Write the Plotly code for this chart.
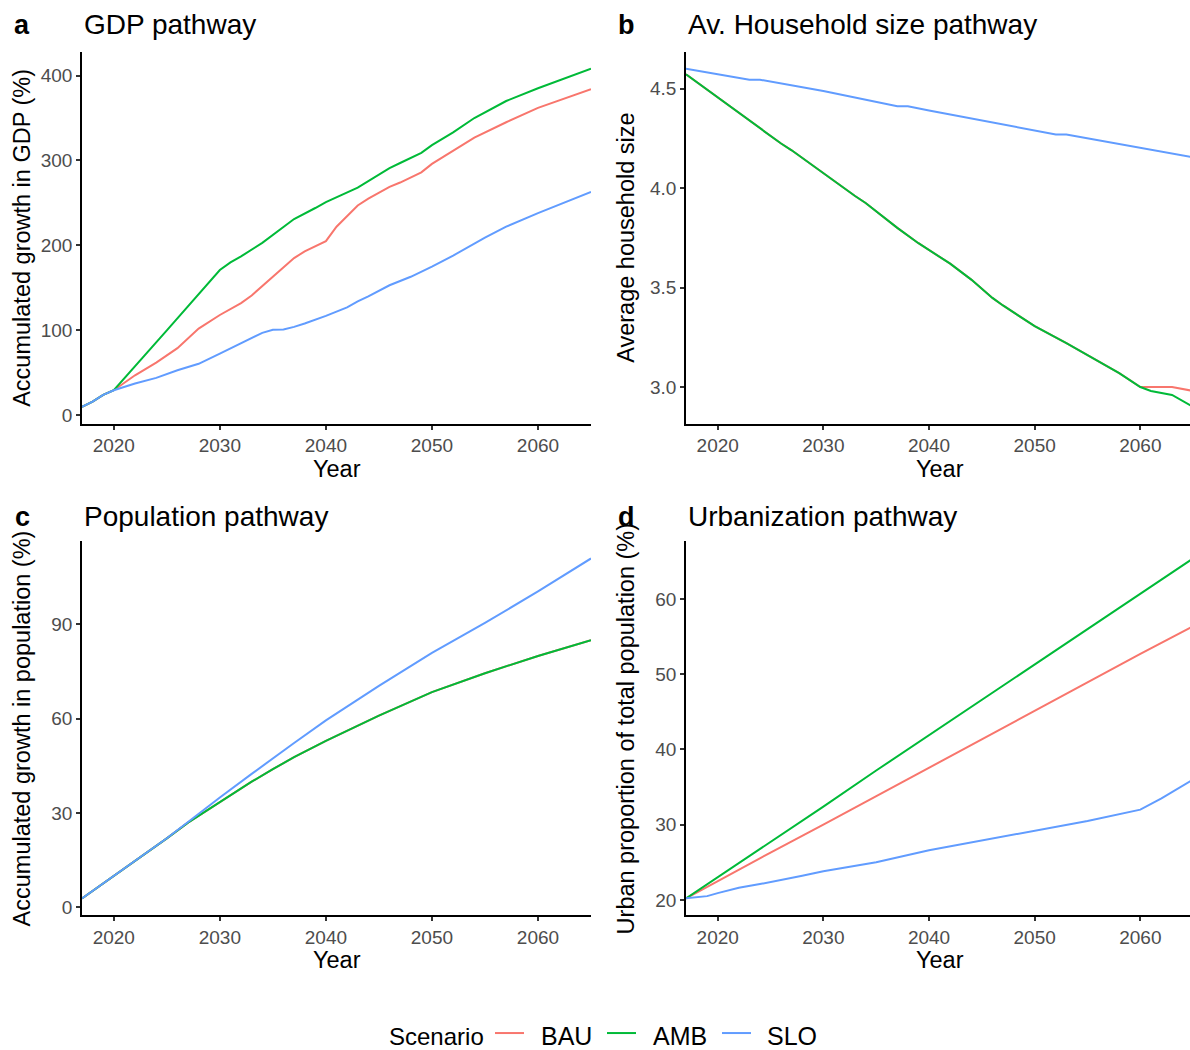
import plotly.graph_objects as go

# ---------------- data ----------------
scenarios = ["BAU", "AMB", "SLO"]
colors = {"BAU": "#F8766D", "AMB": "#00BA38", "SLO": "#619CFF"}

# Panel a: GDP accumulated growth (%)
gdp_bau_years = [2017, 2018, 2019, 2020, 2022, 2024, 2026, 2027, 2028, 2030, 2032, 2033, 2034, 2036, 2037, 2038,
                 2040, 2041, 2043, 2044, 2046, 2047, 2049, 2050, 2051, 2054, 2057, 2060, 2065]
gdp_bau = [9.8, 16, 24, 29.4, 47, 62, 79, 90, 102, 118, 132, 141, 152, 174, 185, 193,
           205, 222, 247, 255, 269, 274, 286, 296, 304, 327, 345, 362, 384]
gdp_amb_years = [2017, 2018, 2019, 2020, 2025, 2030, 2031, 2032, 2034, 2037, 2039, 2040, 2043, 2044, 2046,
                 2047, 2049, 2050, 2052, 2054, 2055, 2057, 2060, 2063, 2065]
gdp_amb = [9.8, 16, 24, 29.4, 100, 171, 180, 187, 203, 231, 244, 251, 268, 276, 291,
           297, 309, 318, 333, 350, 357, 370, 385, 399, 408]
gdp_slo_years = [2017, 2018, 2019, 2020, 2022, 2024, 2026, 2028, 2030, 2032, 2034, 2035, 2036, 2037, 2038,
                 2040, 2042, 2043, 2044, 2046, 2048, 2050, 2052, 2055, 2057, 2060, 2063, 2065]
gdp_slo = [9.8, 16, 24, 29.4, 37.3, 44, 53, 60.5, 72.5, 85, 97, 100.5, 101, 104, 108,
           117, 127, 134, 140, 153, 163, 175, 188, 209, 222, 238, 253, 263]

# Panel b: average household size
hh_amb_years = [2017, 2019, 2020, 2022, 2024, 2026, 2027, 2030, 2033, 2034, 2037, 2039, 2040, 2042, 2044, 2046,
                2047, 2050, 2053, 2055, 2058, 2060, 2061, 2063, 2065]
hh_amb = [4.572, 4.495, 4.458, 4.38, 4.30, 4.224, 4.19, 4.074, 3.96, 3.925, 3.80, 3.723, 3.69, 3.62, 3.54, 3.448,
          3.41, 3.306, 3.22, 3.16, 3.07, 3.00, 2.98, 2.96, 2.90]
hh_bau_years = hh_amb_years[:22] + [2061, 2063, 2065]
hh_bau = hh_amb[:22] + [3.00, 3.00, 2.98]
hh_slo_years = [2017, 2023, 2024, 2030, 2037, 2038, 2040, 2050, 2052, 2053, 2060, 2065]
hh_slo = [4.60, 4.545, 4.545, 4.488, 4.411, 4.411, 4.39, 4.29, 4.27, 4.27, 4.205, 4.155]

# Panel c: population accumulated growth (%)
pop_years = [2017, 2020, 2025, 2027, 2030, 2033, 2035, 2037, 2040, 2045, 2050, 2055, 2060, 2065]
pop_bau = [2.9, 10, 22, 27, 33.5, 40, 44, 47.8, 53, 61, 68.5, 74.5, 80, 85]
pop_amb = [2.9, 10, 22, 27, 33.5, 40, 44, 47.8, 53, 61, 68.5, 74.5, 80, 85]
pop_slo = [2.9, 10, 22, 27.2, 35, 42.5, 47.5, 52.3, 59.5, 70.5, 81, 90.5, 100.5, 111]

# Panel d: urban proportion (%)
urb_years = [2017, 2020, 2025, 2030, 2035, 2040, 2045, 2050, 2055, 2060, 2065]
urb_bau = [20.2, 22.5, 26.3, 30.0, 33.8, 37.6, 41.4, 45.2, 49.0, 52.7, 56.4]
urb_amb = [20.2, 23.0, 27.7, 32.4, 37.2, 41.9, 46.6, 51.3, 56.0, 60.7, 65.4]
urb_slo_years = [2017, 2019, 2020, 2022, 2024, 2026, 2028, 2030, 2035, 2040, 2045, 2050, 2055, 2060, 2062, 2065]
urb_slo = [20.2, 20.5, 20.9, 21.6, 22.1, 22.6, 23.2, 23.8, 25.0, 26.6, 27.9, 29.2, 30.5, 32.0, 33.5, 36.0]

x_ticks = [2020, 2030, 2040, 2050, 2060]

panels = [
    dict(key="a", title="GDP pathway", ylab="Accumulated growth in GDP (%)",
         series={"BAU": (gdp_bau_years, gdp_bau), "AMB": (gdp_amb_years, gdp_amb), "SLO": (gdp_slo_years, gdp_slo)},
         yticks=[0, 100, 200, 300, 400], fmt=None),
    dict(key="b", title="Av. Household size pathway", ylab="Average household size",
         series={"BAU": (hh_bau_years, hh_bau), "AMB": (hh_amb_years, hh_amb), "SLO": (hh_slo_years, hh_slo)},
         yticks=[3.0, 3.5, 4.0, 4.5], fmt=".1f"),
    dict(key="c", title="Population pathway", ylab="Accumulated growth in population (%)",
         series={"BAU": (pop_years, pop_bau), "AMB": (pop_years, pop_amb), "SLO": (pop_years, pop_slo)},
         yticks=[0, 30, 60, 90], fmt=None),
    dict(key="d", title="Urbanization pathway", ylab="Urban proportion of total population (%)",
         series={"BAU": (urb_years, urb_bau), "AMB": (urb_years, urb_amb), "SLO": (urb_slo_years, urb_slo)},
         yticks=[20, 30, 40, 50, 60], fmt=None),
]

# ---------------- layout geometry (pixels) ----------------
W, H = 1190, 1050
boxes = {  # left, right, top, bottom in px
    "a": (82, 591, 52, 425),
    "b": (686, 1190, 52, 425),
    "c": (82, 591, 543, 918),
    "d": (686, 1190, 543, 918),
}
x_ranges = {"a": [2017, 2065], "b": [2017, 2064.7], "c": [2017, 2065], "d": [2017, 2064.7]}

FONT = "Liberation Sans, Arial, sans-serif"
fig = go.Figure()
annotations = []
shapes = []

for i, p in enumerate(panels):
    k = p["key"]
    idx = "" if i == 0 else str(i + 1)
    xa, ya = "x" + idx, "y" + idx
    allv = []
    for s in scenarios:
        xs, ys = p["series"][s]
        allv += ys
        fig.add_trace(go.Scatter(x=xs, y=ys, mode="lines", name=s, xaxis=xa, yaxis=ya,
                                 line=dict(color=colors[s], width=2), showlegend=False))
    lo, hi = min(allv), max(allv)
    pad = 0.05 * (hi - lo)
    l, r, t, b = boxes[k]
    common = dict(showline=True, linecolor="black", linewidth=1.6, ticks="outside", ticklen=4,
                  tickwidth=1.5, tickcolor="#333333", showgrid=False, zeroline=False,
                  tickfont=dict(family=FONT, size=19, color="#4D4D4D"))
    fig.update_layout(**{
        "xaxis" + idx: dict(domain=[l / W, r / W], range=x_ranges[k], tickvals=x_ticks,
                            anchor=ya, **common),
        "yaxis" + idx: dict(domain=[1 - b / H, 1 - t / H], range=[lo - pad, hi + pad],
                            tickvals=p["yticks"], tickformat=p["fmt"], anchor=xa, **common),
    })
    top_shift = 27 if k in "ab" else 25
    # x-axis title
    annotations.append(dict(text="Year", x=(l + r) / 2 / W if k in "ac" else (l + 1193) / 2 / W,
                            y=1 - (b + 45) / H, xref="paper", yref="paper", showarrow=False,
                            xanchor="center", yanchor="middle",
                            font=dict(family=FONT, size=23.5, color="black")))
    # y-axis title
    annotations.append(dict(text=p["ylab"], x=(l - 60) / W, y=1 - (t + b) / 2 / H, xref="paper",
                            yref="paper", showarrow=False, textangle=-90, xanchor="center",
                            yanchor="middle", font=dict(family=FONT, size=23.5, color="black")))
    # panel title
    annotations.append(dict(text=p["title"], x=l / W, y=1 - (t - top_shift) / H, xref="paper", yref="paper",
                            showarrow=False, xanchor="left", yanchor="middle",
                            font=dict(family=FONT, size=28, color="black")))
    # panel letter
    annotations.append(dict(text="<b>" + k + "</b>", x=(l - 60) / W, y=1 - (t - top_shift) / H, xref="paper",
                            yref="paper", showarrow=False, xanchor="center", yanchor="middle",
                            font=dict(family=FONT, size=27, color="black")))

# ---------------- legend (ggplot-style, bottom) ----------------
leg_y = 1 - 1039 / H
annotations.append(dict(text="Scenario", x=387 / W, y=leg_y, xref="paper", yref="paper", showarrow=False,
                        xanchor="left", yanchor="middle", font=dict(family=FONT, size=24, color="black")))
key_pos = {"BAU": (495, 539), "AMB": (607, 651), "SLO": (722, 765)}
for s in scenarios:
    kx, tx = key_pos[s]
    shapes.append(dict(type="line", xref="paper", yref="paper", x0=kx / W, x1=(kx + 29) / W,
                       y0=1 - 1036 / H, y1=1 - 1036 / H, line=dict(color=colors[s], width=2)))
    annotations.append(dict(text=s, x=tx / W, y=leg_y, xref="paper", yref="paper", showarrow=False,
                            xanchor="left", yanchor="middle",
                            font=dict(family=FONT, size=25, color="black")))

fig.update_layout(
    width=W, height=H, margin=dict(l=0, r=0, t=0, b=0),
    paper_bgcolor="white", plot_bgcolor="white",
    annotations=annotations, shapes=shapes, showlegend=False,
)

fig.write_html("out.html", config={"displayModeBar": False},
               post_script="document.body.style.margin='0';")
